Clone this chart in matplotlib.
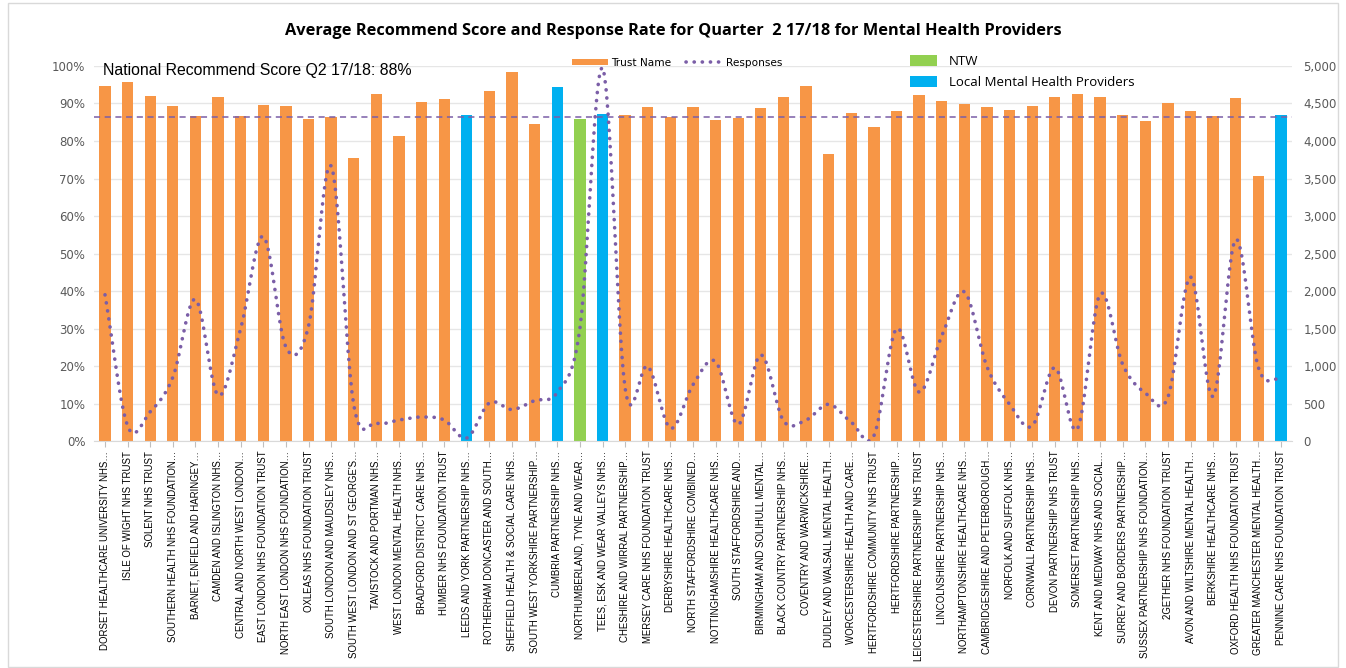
import numpy as np
import matplotlib
matplotlib.use("Agg")
import matplotlib.pyplot as plt
from matplotlib.patches import Patch, Rectangle
from matplotlib.lines import Line2D
from matplotlib.ticker import FuncFormatter, MultipleLocator

trusts = [
    "DORSET HEALTHCARE UNIVERSITY NHS…", "ISLE OF WIGHT NHS TRUST", "SOLENT NHS TRUST",
    "SOUTHERN HEALTH NHS FOUNDATION…", "BARNET, ENFIELD AND HARINGEY…",
    "CAMDEN AND ISLINGTON NHS…", "CENTRAL AND NORTH WEST LONDON…",
    "EAST LONDON NHS FOUNDATION TRUST", "NORTH EAST LONDON NHS FOUNDATION…",
    "OXLEAS NHS FOUNDATION TRUST", "SOUTH LONDON AND MAUDSLEY NHS…",
    "SOUTH WEST LONDON AND ST GEORGE'S…", "TAVISTOCK AND PORTMAN NHS…",
    "WEST LONDON MENTAL HEALTH NHS…", "BRADFORD DISTRICT CARE NHS…",
    "HUMBER NHS FOUNDATION TRUST", "LEEDS AND YORK PARTNERSHIP NHS…",
    "ROTHERHAM DONCASTER AND SOUTH…", "SHEFFIELD HEALTH & SOCIAL CARE NHS…",
    "SOUTH WEST YORKSHIRE PARTNERSHIP…", "CUMBRIA PARTNERSHIP NHS…",
    "NORTHUMBERLAND, TYNE AND WEAR…", "TEES, ESK AND WEAR VALLEYS NHS…",
    "CHESHIRE AND WIRRAL PARTNERSHIP…", "MERSEY CARE NHS FOUNDATION TRUST",
    "DERBYSHIRE HEALTHCARE NHS…", "NORTH STAFFORDSHIRE COMBINED…",
    "NOTTINGHAMSHIRE HEALTHCARE NHS…", "SOUTH STAFFORDSHIRE AND…",
    "BIRMINGHAM AND SOLIHULL MENTAL…", "BLACK COUNTRY PARTNERSHIP NHS…",
    "COVENTRY AND WARWICKSHIRE…", "DUDLEY AND WALSALL MENTAL HEALTH…",
    "WORCESTERSHIRE HEALTH AND CARE…", "HERTFORDSHIRE COMMUNITY NHS TRUST",
    "HERTFORDSHIRE PARTNERSHIP…", "LEICESTERSHIRE PARTNERSHIP NHS TRUST",
    "LINCOLNSHIRE PARTNERSHIP NHS…", "NORTHAMPTONSHIRE HEALTHCARE NHS…",
    "CAMBRIDGESHIRE AND PETERBOROUGH…", "NORFOLK AND SUFFOLK NHS…",
    "CORNWALL PARTNERSHIP NHS…", "DEVON PARTNERSHIP NHS TRUST",
    "SOMERSET PARTNERSHIP NHS…", "KENT AND MEDWAY NHS AND SOCIAL…",
    "SURREY AND BORDERS PARTNERSHIP…", "SUSSEX PARTNERSHIP NHS FOUNDATION…",
    "2GETHER NHS FOUNDATION TRUST", "AVON AND WILTSHIRE MENTAL HEALTH…",
    "BERKSHIRE HEALTHCARE NHS…", "OXFORD HEALTH NHS FOUNDATION TRUST",
    "GREATER MANCHESTER MENTAL HEALTH…", "PENNINE CARE NHS FOUNDATION TRUST",
]

scores = [
    94.7, 95.7, 92.0, 89.3, 86.7, 91.7, 86.7, 89.6, 89.3, 85.9,
    86.4, 75.5, 92.5, 81.3, 90.4, 91.2, 86.9, 93.3, 98.4, 84.5,
    94.4, 85.9, 87.2, 86.9, 89.1, 86.4, 89.1, 85.6, 86.1, 88.8,
    91.8, 94.6, 76.6, 87.6, 83.8, 88.1, 92.2, 90.6, 89.9, 89.0,
    88.3, 89.3, 91.8, 92.4, 91.6, 86.9, 85.3, 90.2, 87.9, 86.7,
    91.5, 70.8, 87.0,
]

responses = [
    1950, 200, 390, 850, 1890, 610, 1500, 2730, 1250, 1530,
    3670, 480, 240, 280, 320, 280, 40, 510, 420, 540,
    650, 1500, 4980, 700, 1000, 170, 750, 1060, 220, 1150,
    270, 280, 490, 250, 70, 1500, 650, 1400, 1990, 990,
    490, 200, 980, 160, 1960, 1020, 640, 580, 2190, 590,
    2690, 980, 820,
]

# category of each trust: "trust", "ntw" or "local"
groups = ["trust"] * len(trusts)
for i in (16, 20, 22, 52):
    groups[i] = "local"
groups[21] = "ntw"

average_line = 86.5

colours = {"trust": "#F79646", "ntw": "#92D050", "local": "#00B0F0"}
purple = "#7B5EA7"
grey = "#595959"


def smooth(y, per=12):
    # cubic (Catmull-Rom) curve through the points, like Excel's smoothed line
    y = np.asarray(y, dtype=float)
    p = np.concatenate([[2 * y[0] - y[1]], y, [2 * y[-1] - y[-2]]])
    xs, ys = [], []
    t = np.linspace(0, 1, per, endpoint=False)
    for i in range(len(y) - 1):
        p0, p1, p2, p3 = p[i], p[i + 1], p[i + 2], p[i + 3]
        yy = 0.5 * (2 * p1 + (-p0 + p2) * t + (2 * p0 - 5 * p1 + 4 * p2 - p3) * t ** 2
                    + (-p0 + 3 * p1 - 3 * p2 + p3) * t ** 3)
        xs.append(i + t)
        ys.append(yy)
    xs.append([len(y) - 1])
    ys.append([y[-1]])
    return np.concatenate(xs), np.concatenate(ys)


fig = plt.figure(figsize=(13.46, 6.68), dpi=100)
fig.patches.append(Rectangle((8 / 1346, 1 / 668), 1330 / 1346, 664 / 668, transform=fig.transFigure,
                             fill=False, edgecolor="#D9D9D9", linewidth=1))

ax = fig.add_axes([0.0696, 0.3398, 0.8905, 0.5614])
x = np.arange(len(trusts))
ax.bar(x, scores, width=0.5, color=[colours[g] for g in groups], zorder=2)
ax.axhline(average_line, color=purple, linestyle=(0, (4, 3)), linewidth=1.1, zorder=3)

ax.set_xlim(-0.5, len(trusts) - 0.5)
ax.set_ylim(0, 100)
ax.yaxis.set_major_locator(MultipleLocator(10))
ax.yaxis.set_major_formatter(FuncFormatter(lambda v, p: f"{v:.0f}%"))
ax.grid(axis="y", color="#E6E6E6", linewidth=1, zorder=0)
ax.set_axisbelow(True)
for s in ("top", "right", "left"):
    ax.spines[s].set_visible(False)
ax.spines["bottom"].set_color("#D9D9D9")
ax.set_xticks(x)
labels = ax.set_xticklabels(trusts, rotation=90, fontsize=8, color="black",
                            family=["Liberation Sans Narrow", "Liberation Sans", "DejaVu Sans"])
ax.tick_params(axis="x", length=4, color="#BFBFBF", pad=3)
ax.tick_params(axis="y", length=0, labelsize=8.5, labelcolor=grey, pad=6)

# size the category labels so the first one is about 200 px long, as in the original
fig.canvas.draw()
h = labels[0].get_window_extent().height
new_size = 8 * 200 / h
for lab in labels:
    lab.set_fontsize(new_size)

ax2 = ax.twinx()
sx, sy = smooth(responses)
ax2.plot(sx, sy, color=purple, linewidth=2.6, linestyle=(0, (0.05, 2.2)),
         dash_capstyle="round", zorder=4)
ax2.set_ylim(0, 5000)
ax2.yaxis.set_major_locator(MultipleLocator(500))
ax2.yaxis.set_major_formatter(FuncFormatter(lambda v, p: f"{v:,.0f}"))
ax2.tick_params(axis="y", length=0, labelsize=8.5, labelcolor=grey, pad=8)
for s in ("top", "right", "left", "bottom"):
    ax2.spines[s].set_visible(False)

ax.text(0.008, 0.989, "National Recommend Score Q2 17/18: 88%", transform=ax.transAxes,
        fontsize=11.4, va="center", ha="left", family="Liberation Sans")

fig.text(0.5, 0.953, "Average Recommend Score and Response Rate for Quarter  2 17/18 for Mental Health Providers",
         ha="center", va="center", fontsize=11.8, fontweight="bold", family="Open Sans")

h1 = [Patch(facecolor=colours["trust"]),
      Line2D([0], [0], color=purple, linewidth=2.6, linestyle=(0, (0.05, 2.2)), dash_capstyle="round")]
fig.legend(h1, ["Trust Name", "Responses"], loc="center", bbox_to_anchor=(0.503, 0.906),
           ncol=2, frameon=False, fontsize=7.6, handlelength=3.4, handleheight=0.45,
           columnspacing=1.4, handletextpad=0.35)

h2 = [Patch(facecolor=colours["ntw"]), Patch(facecolor=colours["local"])]
fig.legend(h2, ["NTW", "Local Mental Health Providers"], loc="upper left",
           bbox_to_anchor=(0.667, 0.935), frameon=False,
           handlelength=2.1, handleheight=0.9, handletextpad=0.85, labelspacing=0.55,
           prop={"family": "Open Sans", "size": 9.5})

fig.savefig("out.png", dpi=100)
